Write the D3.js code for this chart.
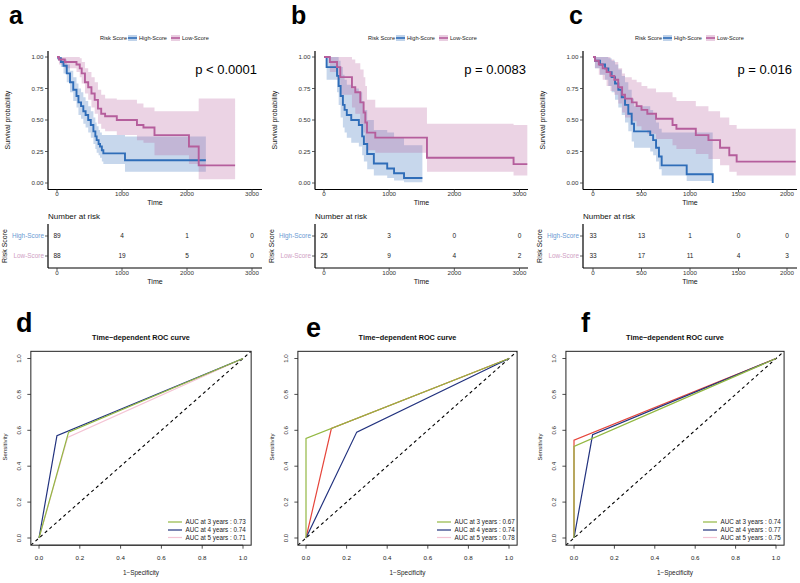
<!DOCTYPE html>
<html><head><meta charset="utf-8">
<script src="https://cdn.jsdelivr.net/npm/d3@7"></script>
<style>
body{margin:0;background:#fff}
svg{display:block;font-family:"Liberation Sans",Arial,Helvetica,sans-serif}
</style>
</head><body><svg id="chart" width="800" height="583"></svg>
<script>
// ---------------- DATA: Kaplan-Meier ----------------
const groups = ["High-Score", "Low-Score"];
const kmTicksAB = [0, 1000, 2000, 3000];
const kmTicksC = [0, 500, 1000, 1500, 2000];
const survTicks = [0, 0.25, 0.5, 0.75, 1];
const pValues = ["p < 0.0001", "p = 0.0083", "p = 0.016"];

// panel a
const aHighTime  = [0, 20, 60, 100, 150, 200, 250, 300, 330, 370, 405, 440, 480, 520, 560, 590, 610, 640, 662, 690, 713, 1046];
const aHighSurv  = [1, 0.99, 0.96, 0.93, 0.87, 0.80, 0.74, 0.69, 0.64, 0.61, 0.57, 0.54, 0.50, 0.46, 0.41, 0.37, 0.34, 0.31, 0.29, 0.26, 0.235, 0.18];
const aHighUpper = [1, 1, 0.99, 0.98, 0.94, 0.89, 0.84, 0.79, 0.75, 0.72, 0.68, 0.65, 0.61, 0.57, 0.52, 0.48, 0.45, 0.42, 0.40, 0.38, 0.38, 0.37];
const aHighLower = [1, 0.97, 0.92, 0.87, 0.80, 0.72, 0.65, 0.60, 0.54, 0.51, 0.47, 0.44, 0.40, 0.36, 0.31, 0.27, 0.24, 0.22, 0.20, 0.17, 0.15, 0.09];
const aHighEnd = 2290;
const aLowTime  = [0, 30, 120, 300, 350, 380, 430, 480, 530, 580, 630, 680, 740, 920, 1230, 1330, 1500, 2030, 2180];
const aLowSurv  = [1, 0.98, 0.96, 0.94, 0.91, 0.87, 0.80, 0.76, 0.71, 0.66, 0.59, 0.55, 0.53, 0.50, 0.46, 0.44, 0.38, 0.29, 0.14];
const aLowUpper = [1, 1, 1, 1, 0.99, 0.96, 0.91, 0.88, 0.84, 0.80, 0.74, 0.70, 0.67, 0.66, 0.63, 0.60, 0.57, 0.57, 0.67];
const aLowLower = [1, 0.94, 0.91, 0.88, 0.84, 0.79, 0.71, 0.66, 0.60, 0.55, 0.47, 0.43, 0.41, 0.38, 0.34, 0.32, 0.22, 0.15, 0.03];
const aLowEnd = 2740;
const aRiskHigh = [89, 4, 1, 0];
const aRiskLow  = [88, 19, 5, 0];

// panel b
const bHighTime  = [0, 40, 200, 225, 255, 290, 316, 350, 418, 535, 586, 612, 663, 765, 970, 1075, 1228];
const bHighSurv  = [1, 0.92, 0.85, 0.77, 0.69, 0.62, 0.58, 0.54, 0.50, 0.46, 0.37, 0.31, 0.23, 0.155, 0.115, 0.077, 0.04];
const bHighUpper = [1, 1, 1, 0.97, 0.92, 0.86, 0.82, 0.78, 0.75, 0.72, 0.65, 0.58, 0.50, 0.42, 0.40, 0.36, 0.30];
const bHighLower = [1, 0.82, 0.72, 0.62, 0.52, 0.44, 0.40, 0.36, 0.32, 0.29, 0.22, 0.17, 0.11, 0.06, 0.04, 0.02, 0.005];
const bHighEnd = 1510;
const bLowTime  = [0, 90, 200, 250, 429, 480, 557, 608, 634, 660, 787, 1580, 2909];
const bLowSurv  = [1, 0.96, 0.92, 0.84, 0.76, 0.72, 0.64, 0.56, 0.48, 0.40, 0.36, 0.20, 0.15];
const bLowUpper = [1, 1, 1, 1, 0.98, 0.95, 0.90, 0.84, 0.77, 0.66, 0.60, 0.47, 0.46];
const bLowLower = [1, 0.88, 0.82, 0.70, 0.60, 0.55, 0.47, 0.40, 0.32, 0.26, 0.24, 0.09, 0.06];
const bLowEnd = 3120;
const bRiskHigh = [26, 3, 0, 0];
const bRiskLow  = [25, 9, 4, 2];

// panel c
const cHighTime  = [0, 20, 72, 124, 158, 192, 227, 261, 296, 330, 364, 399, 423, 590, 620, 650, 680, 708, 966, 1234];
const cHighSurv  = [1, 0.97, 0.94, 0.91, 0.88, 0.84, 0.79, 0.74, 0.68, 0.62, 0.55, 0.47, 0.41, 0.38, 0.34, 0.28, 0.21, 0.14, 0.07, 0];
const cHighUpper = [1, 1, 1, 1, 0.99, 0.97, 0.94, 0.90, 0.85, 0.80, 0.74, 0.67, 0.61, 0.58, 0.54, 0.48, 0.43, 0.40, 0.40, 0.40];
const cHighLower = [1, 0.91, 0.86, 0.82, 0.77, 0.72, 0.66, 0.60, 0.54, 0.48, 0.41, 0.33, 0.28, 0.25, 0.22, 0.17, 0.11, 0.06, 0.015, 0];
const cHighEnd = 1234;
const cLowTime  = [0, 20, 60, 100, 140, 180, 220, 260, 300, 330, 400, 450, 500, 560, 650, 820, 860, 1060, 1190, 1310, 1405, 1481];
const cLowSurv  = [1, 0.97, 0.94, 0.91, 0.88, 0.85, 0.82, 0.76, 0.70, 0.67, 0.64, 0.61, 0.58, 0.55, 0.51, 0.46, 0.43, 0.38, 0.34, 0.28, 0.22, 0.17];
const cLowUpper = [1, 1, 1, 1, 1, 0.98, 0.96, 0.91, 0.87, 0.84, 0.82, 0.80, 0.77, 0.75, 0.72, 0.68, 0.65, 0.61, 0.57, 0.52, 0.46, 0.43];
const cLowLower = [1, 0.91, 0.86, 0.82, 0.77, 0.73, 0.70, 0.63, 0.56, 0.52, 0.49, 0.45, 0.42, 0.39, 0.35, 0.30, 0.27, 0.23, 0.19, 0.14, 0.09, 0.06];
const cLowEnd = 2090;
const cRiskHigh = [33, 13, 1, 0, 0];
const cRiskLow  = [33, 17, 11, 4, 3];

// ---------------- DATA: ROC ----------------
const rocTicks = [0, 0.2, 0.4, 0.6, 0.8, 1.0];
const rocYears = ["3 years", "4 years", "5 years"];
const dFpr = [[0, 0.145, 1], [0, 0.088, 1], [0, 0.14, 1]];
const dTpr = [[0, 0.59, 1], [0, 0.57, 1], [0, 0.56, 1]];
const dAuc = ["0.73", "0.74", "0.71"];
const eFpr = [[0, 0, 1], [0, 0.25, 1], [0, 0.125, 1]];
const eTpr = [[0, 0.555, 1], [0, 0.59, 1], [0, 0.61, 1]];
const eAuc = ["0.67", "0.74", "0.78"];
const fFpr = [[0, 0, 1], [0, 0.092, 1], [0, 0, 1]];
const fTpr = [[0, 0.51, 1], [0, 0.575, 1], [0, 0.545, 1]];
const fAuc = ["0.74", "0.77", "0.75"];

// ---------------- STYLE / LAYOUT ----------------
const blue = "#2F6DB8", pink = "#B55E9C";
const blueTxt = "#6A9AD3", pinkTxt = "#CFA0C4";
const rocCols = ["#93B842", "#23337F", "#F4C4D4"];
const rocColsRed = ["#93B842", "#23337F", "#E6463C"];
const svg = d3.select("#chart");

function kmSeries(t, s, lo, up, end) {
  const pts = t.map((v, i) => ({t: v, s: s[i], lo: lo[i], up: up[i]}));
  const last = pts[pts.length - 1];
  pts.push({t: end, s: last.s, lo: last.lo, up: last.up});
  return pts;
}

function drawKM(p) {
  const g = svg.append("g");
  const x = d3.scaleLinear().domain(p.xDom).range(p.xRange);
  const y = d3.scaleLinear().domain([0, 1]).range([183, 57]);
  const ax0 = p.axisExt[0], ax1 = p.axisExt[1];

  // legend
  const lg = g.append("g").attr("font-size", 5.6).attr("fill", "#222");
  lg.append("text").attr("x", p.legX).attr("y", 40).text("Risk Score");
  const keys = [{c: blue, x: p.legX + 28, lab: groups[0]}, {c: pink, x: p.legX + 71, lab: groups[1]}];
  keys.forEach(k => {
    lg.append("rect").attr("x", k.x).attr("y", 35).attr("width", 9).attr("height", 6).attr("fill", k.c).attr("fill-opacity", 0.3);
    lg.append("line").attr("x1", k.x).attr("x2", k.x + 9).attr("y1", 38).attr("y2", 38).attr("stroke", k.c).attr("stroke-width", 1.6);
    lg.append("text").attr("x", k.x + 11).attr("y", 40).text(k.lab);
  });

  // bands
  const area = d3.area().curve(d3.curveStepAfter).x(d => x(d.t)).y0(d => y(d.lo)).y1(d => y(d.up));
  const line = d3.line().curve(d3.curveStepAfter).x(d => x(d.t)).y(d => y(d.s));
  const series = [{d: p.high, c: blue}, {d: p.low, c: pink}];
  series.forEach(s => g.append("path").attr("d", area(s.d)).attr("fill", s.c).attr("fill-opacity", 0.27));
  series.forEach(s => g.append("path").attr("d", line(s.d)).attr("fill", "none").attr("stroke", s.c).attr("stroke-width", 1.9));

  // axes (main)
  g.append("line").attr("x1", ax0).attr("x2", ax0).attr("y1", 51).attr("y2", 189.5).attr("stroke", "#000").attr("stroke-width", 1.2);
  g.append("line").attr("x1", ax0).attr("x2", ax1).attr("y1", 189.5).attr("y2", 189.5).attr("stroke", "#000").attr("stroke-width", 1.2);
  const yt = g.append("g");
  survTicks.forEach(v => {
    yt.append("line").attr("x1", ax0 - 3).attr("x2", ax0).attr("y1", y(v)).attr("y2", y(v)).attr("stroke", "#333").attr("stroke-width", 0.8);
    yt.append("text").attr("x", ax0 - 4.5).attr("y", y(v) + 2.2).attr("text-anchor", "end").attr("font-size", 6.2).attr("fill", "#333").text(d3.format(".2f")(v));
  });
  const xtick = (yLine, yLab) => {
    p.ticks.forEach(v => {
      g.append("line").attr("x1", x(v)).attr("x2", x(v)).attr("y1", yLine).attr("y2", yLine + 3).attr("stroke", "#333").attr("stroke-width", 0.8);
      g.append("text").attr("x", x(v)).attr("y", yLab).attr("text-anchor", "middle").attr("font-size", 6.2).attr("fill", "#333").text(v);
    });
  };
  xtick(189.5, 195.5);
  g.append("text").attr("x", (ax0 + ax1) / 2).attr("y", 205).attr("text-anchor", "middle").attr("font-size", 7).attr("fill", "#111").text("Time");
  g.append("text").attr("transform", `translate(${ax0 - 38},120) rotate(-90)`).attr("text-anchor", "middle").attr("font-size", 7).attr("fill", "#111").text("Survival probability");

  // p value
  g.append("text").attr("x", p.pX).attr("y", 74).attr("text-anchor", "end").attr("font-size", 13).attr("fill", "#000").text(p.pval);

  // panel letter
  g.append("text").attr("x", p.letterX).attr("y", 24).attr("font-size", 25).attr("font-weight", "bold").text(p.letter);

  // risk table
  g.append("text").attr("x", ax0).attr("y", 219).attr("font-size", 8).attr("fill", "#111").text("Number at risk");
  g.append("line").attr("x1", ax0).attr("x2", ax0).attr("y1", 224).attr("y2", 268).attr("stroke", "#000").attr("stroke-width", 1.2);
  g.append("line").attr("x1", ax0).attr("x2", ax1).attr("y1", 268).attr("y2", 268).attr("stroke", "#000").attr("stroke-width", 1.2);
  const rows = [{v: p.riskHigh, y: 236, lab: groups[0], c: blueTxt}, {v: p.riskLow, y: 256, lab: groups[1], c: pinkTxt}];
  rows.forEach(r => {
    g.append("line").attr("x1", ax0 - 3).attr("x2", ax0).attr("y1", r.y).attr("y2", r.y).attr("stroke", "#333").attr("stroke-width", 0.8);
    g.append("text").attr("x", ax0 - 4).attr("y", r.y + 2.2).attr("text-anchor", "end").attr("font-size", 6.4).attr("fill", r.c).text(r.lab);
    r.v.forEach((n, i) => {
      g.append("text").attr("x", x(p.ticks[i])).attr("y", r.y + 2.4).attr("text-anchor", "middle").attr("font-size", 6.5).attr("fill", "#222").text(n);
    });
  });
  xtick(268, 275);
  g.append("text").attr("x", (ax0 + ax1) / 2).attr("y", 284).attr("text-anchor", "middle").attr("font-size", 7).attr("fill", "#111").text("Time");
  g.append("text").attr("transform", `translate(${ax0 - 41.5},246) rotate(-90)`).attr("text-anchor", "middle").attr("font-size", 7).attr("fill", "#111").text("Risk Score");
}

drawKM({letter: "a", letterX: 9, xDom: [0, 3000], xRange: [57, 252], axisExt: [48, 262], ticks: kmTicksAB,
  high: kmSeries(aHighTime, aHighSurv, aHighLower, aHighUpper, aHighEnd),
  low: kmSeries(aLowTime, aLowSurv, aLowLower, aLowUpper, aLowEnd),
  riskHigh: aRiskHigh, riskLow: aRiskLow, pval: pValues[0], pX: 257, legX: 100});
drawKM({letter: "b", letterX: 291, xDom: [0, 3000], xRange: [324, 519.5], axisExt: [315, 528], ticks: kmTicksAB,
  high: kmSeries(bHighTime, bHighSurv, bHighLower, bHighUpper, bHighEnd),
  low: kmSeries(bLowTime, bLowSurv, bLowLower, bLowUpper, bLowEnd),
  riskHigh: bRiskHigh, riskLow: bRiskLow, pval: pValues[1], pX: 526, legX: 368});
drawKM({letter: "c", letterX: 569, xDom: [0, 2000], xRange: [593, 787], axisExt: [583, 797], ticks: kmTicksC,
  high: kmSeries(cHighTime, cHighSurv, cHighLower, cHighUpper, cHighEnd),
  low: kmSeries(cLowTime, cLowSurv, cLowLower, cLowUpper, cLowEnd),
  riskHigh: cRiskHigh, riskLow: cRiskLow, pval: pValues[2], pX: 792, legX: 635});

// ---------------- ROC ----------------
function drawROC(p) {
  const g = svg.append("g");
  const x = d3.scaleLinear().domain([0, 1]).range(p.xRange);
  const y = d3.scaleLinear().domain([0, 1]).range([538, 358.5]);
  const bx0 = x(-0.04), bx1 = x(1.04), by0 = y(-0.04), by1 = y(1.04);
  const cid = "clip" + p.letter;
  g.append("clipPath").attr("id", cid).append("rect").attr("x", bx0).attr("y", by1).attr("width", bx1 - bx0).attr("height", by0 - by1);

  g.append("text").attr("x", p.letterX).attr("y", p.letterY).attr("font-size", 27).attr("font-weight", "bold").text(p.letter);
  g.append("text").attr("x", (bx0 + bx1) / 2).attr("y", 339.5).attr("text-anchor", "middle").attr("font-size", 7.3).attr("font-weight", "bold").attr("fill", "#111").text("Time\u2212dependent ROC curve");

  const lines = g.append("g").attr("clip-path", `url(#${cid})`);
  lines.append("line").attr("x1", x(-0.04)).attr("y1", y(-0.04)).attr("x2", x(1.04)).attr("y2", y(1.04))
    .attr("stroke", "#000").attr("stroke-width", 1.1).attr("stroke-dasharray", "3.2,3");
  const ln = d3.line().x(d => x(d[0])).y(d => y(d[1]));
  // drawn 5 -> 4 -> 3 years so the 3-year curve stays on top
  [2, 1, 0].forEach(i => {
    const pts = p.fpr[i].map((v, j) => [v, p.tpr[i][j]]);
    lines.append("path").attr("d", ln(pts)).attr("fill", "none").attr("stroke", p.cols[i]).attr("stroke-width", 1.2);
  });

  g.append("rect").attr("x", bx0).attr("y", by1).attr("width", bx1 - bx0).attr("height", by0 - by1).attr("fill", "none").attr("stroke", "#222").attr("stroke-width", 1);

  // axes
  rocTicks.forEach(v => {
    g.append("line").attr("x1", x(v)).attr("x2", x(v)).attr("y1", by0).attr("y2", by0 + 3.5).attr("stroke", "#222").attr("stroke-width", 0.8);
    g.append("text").attr("x", x(v)).attr("y", 559.5).attr("text-anchor", "middle").attr("font-size", 6.2).attr("fill", "#222").text(d3.format(".1f")(v));
    g.append("line").attr("x1", bx0 - 3.5).attr("x2", bx0).attr("y1", y(v)).attr("y2", y(v)).attr("stroke", "#222").attr("stroke-width", 0.8);
    g.append("text").attr("transform", `translate(${bx0 - 9.5},${y(v)}) rotate(-90)`).attr("text-anchor", "middle").attr("font-size", 6.2).attr("fill", "#222").text(d3.format(".1f")(v));
  });
  g.append("line").attr("x1", x(0)).attr("x2", x(1)).attr("y1", by0).attr("y2", by0).attr("stroke", "#222").attr("stroke-width", 0.8);
  g.append("text").attr("x", (bx0 + bx1) / 2).attr("y", 574.5).attr("text-anchor", "middle").attr("font-size", 6.4).attr("fill", "#222").text("1\u2212Specificity");
  g.append("text").attr("transform", `translate(${bx0 - 24},447) rotate(-90)`).attr("text-anchor", "middle").attr("font-size", 6).attr("fill", "#222").text("Sensitivity");

  // legend
  const ly = [522, 530, 537.5];
  p.auc.forEach((a, i) => {
    g.append("line").attr("x1", p.legX).attr("x2", p.legX + 14).attr("y1", ly[i]).attr("y2", ly[i]).attr("stroke", rocCols[i]).attr("stroke-width", 1.2);
    g.append("text").attr("x", p.legX + 17.5).attr("y", ly[i] + 2.2).attr("font-size", 6.3).attr("fill", "#222").text(`AUC at ${rocYears[i]} : ${a}`);
  });
}

drawROC({letter: "d", letterX: 16, letterY: 332, xRange: [39, 243], fpr: dFpr, tpr: dTpr, auc: dAuc, cols: rocCols, legX: 168});
drawROC({letter: "e", letterX: 306, letterY: 337, xRange: [306, 509], fpr: eFpr, tpr: eTpr, auc: eAuc, cols: rocColsRed, legX: 437});
drawROC({letter: "f", letterX: 581, letterY: 332, xRange: [574, 776], fpr: fFpr, tpr: fTpr, auc: fAuc, cols: rocColsRed, legX: 703});
</script></body></html>
